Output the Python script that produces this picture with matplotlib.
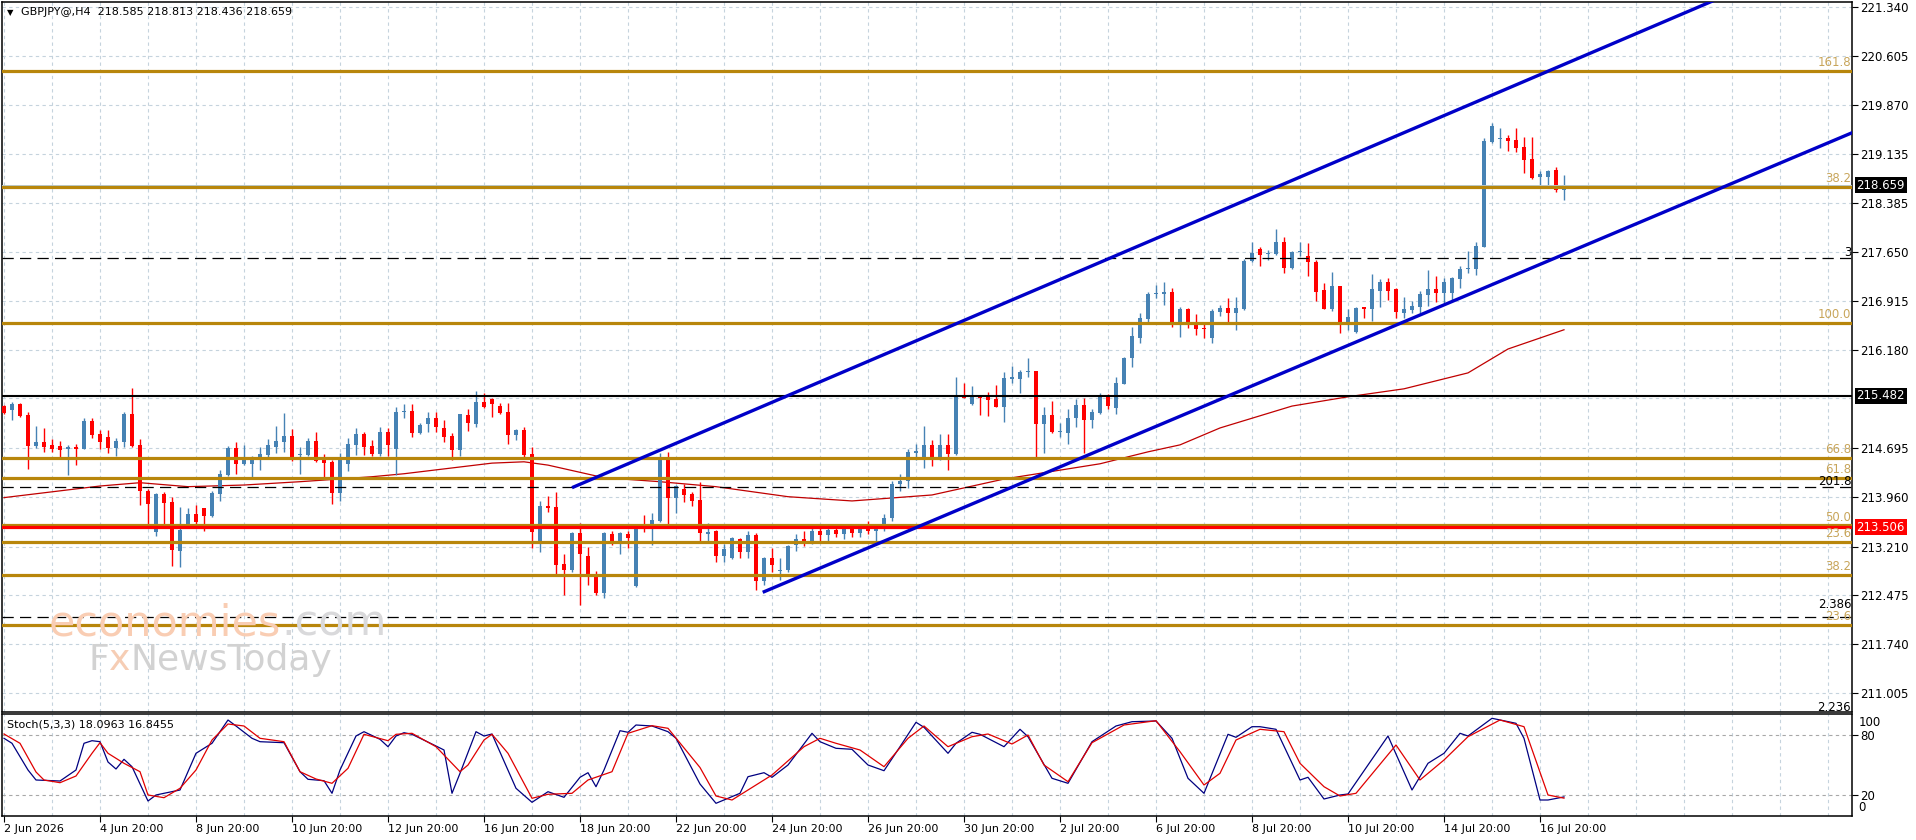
import numpy as np
import matplotlib
matplotlib.use("Agg")
import matplotlib.pyplot as plt
from matplotlib.transforms import blended_transform_factory

# ---------------- DATA ----------------
opens = [215.337,215.271,215.362,215.196,214.729,214.784,214.744,214.729,214.678,214.714,
         214.688,215.105,214.910,214.864,214.703,214.794,215.211,214.744,214.050,213.437,
         214.010,213.890,213.151,213.538,213.704,213.789,213.679,214.005,214.292,214.693,
         214.457,214.457,214.533,214.593,214.714,214.794,214.879,214.593,214.593,214.804,
         214.543,214.487,214.025,214.462,214.744,214.910,214.729,214.608,214.940,214.683,
         215.236,215.256,214.930,215.055,215.146,215.005,214.879,214.668,215.196,215.060,
         215.387,215.437,215.337,215.236,214.894,214.970,214.603,213.272,213.824,213.804,
         212.950,212.860,213.422,213.071,212.769,212.508,213.402,213.287,213.402,212.619,
         213.538,213.538,213.598,214.533,213.950,214.075,214.005,213.915,213.407,213.447,
         213.076,213.035,213.322,213.136,213.387,212.694,213.035,212.845,212.860,213.230,
         213.330,213.280,213.450,213.380,213.460,213.400,213.480,213.420,213.500,213.450,
         213.500,213.650,214.150,214.200,214.628,214.517,214.743,214.557,214.743,214.608,
         215.497,215.361,215.472,215.472,215.432,215.321,215.738,215.738,215.838,215.859,
         215.060,215.195,214.939,214.919,215.145,215.346,215.120,215.231,215.472,215.306,
         215.663,216.049,216.361,216.642,217.014,217.019,217.044,216.587,216.788,216.602,
         216.512,216.361,216.753,216.803,216.738,216.793,217.521,217.697,217.617,217.622,
         217.798,217.406,217.647,217.597,217.501,217.079,216.793,217.140,216.587,216.441,
         216.828,216.793,217.069,217.195,217.089,216.728,216.778,216.828,217.004,217.094,
         217.029,217.029,217.245,217.391,217.396,217.732,219.315,219.350,219.365,219.340,
         219.240,219.049,218.777,218.787,218.888,218.585]
highs = [215.347,215.387,215.372,215.236,215.030,215.005,214.834,214.804,214.744,214.754,
         215.156,215.146,214.970,214.970,214.844,215.236,215.608,214.834,214.075,214.015,
         214.030,213.960,213.814,213.789,213.839,213.799,214.050,214.367,214.734,214.784,
         214.739,214.573,214.714,214.834,215.025,215.226,214.990,214.714,214.854,214.945,
         214.603,214.518,214.618,214.844,215.005,214.945,214.819,215.015,215.005,215.321,
         215.357,215.357,215.070,215.236,215.236,215.120,214.920,215.216,215.286,215.558,
         215.522,215.447,215.372,215.372,214.980,215.020,214.719,213.900,213.975,214.040,
         213.101,213.437,213.563,213.211,212.845,213.437,213.452,213.437,213.452,213.488,
         213.689,213.714,214.618,214.643,214.141,214.151,214.040,214.191,213.563,213.463,
         213.247,213.362,213.337,213.452,213.412,213.061,213.196,213.035,213.237,213.400,
         213.450,213.500,213.520,213.500,213.550,213.520,213.550,213.550,213.600,213.550,
         213.700,214.200,214.300,214.678,214.758,215.030,214.819,214.904,214.904,215.763,
         215.673,215.632,215.472,215.547,215.648,215.848,215.934,215.874,216.049,215.859,
         215.321,215.406,215.070,215.281,215.432,215.447,215.281,215.532,215.512,215.773,
         216.075,216.527,216.728,217.049,217.155,217.205,217.104,216.828,216.803,216.713,
         216.577,216.788,216.853,216.954,216.969,217.542,217.808,217.732,217.682,217.994,
         217.873,217.672,217.808,217.783,217.531,217.180,217.356,217.140,216.788,216.828,
         216.828,217.315,217.245,217.255,217.104,216.969,216.914,217.064,217.381,217.290,
         217.255,217.280,217.441,217.672,217.798,219.365,219.591,219.516,219.415,219.516,
         219.390,219.390,218.873,218.888,218.938,218.813]
lows = [215.206,215.120,215.171,214.382,214.693,214.643,214.643,214.553,214.292,214.442,
        214.678,214.854,214.683,214.628,214.578,214.719,214.719,213.839,213.538,213.377,
        213.538,212.920,212.910,213.528,213.513,213.452,213.664,213.905,214.277,214.312,
        214.442,214.256,214.367,214.568,214.623,214.643,214.503,214.307,214.583,214.482,
        214.261,213.859,213.900,214.352,214.593,214.593,214.578,214.583,214.583,214.292,
        215.146,214.869,214.904,214.945,214.935,214.794,214.518,214.583,214.955,215.010,
        215.306,215.171,215.206,214.754,214.819,214.568,213.196,213.136,213.739,212.794,
        212.483,212.835,212.332,212.634,212.483,212.443,213.236,213.101,213.186,212.609,
        213.427,213.236,213.588,213.513,213.714,213.890,213.829,213.287,213.261,212.975,
        212.985,213.025,213.035,213.035,212.558,212.634,212.835,212.709,212.835,213.150,
        213.220,213.250,213.300,213.300,213.350,213.320,213.350,213.350,213.400,213.300,
        213.450,213.600,214.050,214.100,214.517,214.392,214.427,214.517,214.366,214.592,
        215.447,215.346,215.195,215.180,215.311,215.095,215.673,215.532,215.763,214.567,
        214.618,214.919,214.869,214.758,215.020,214.618,214.994,215.205,215.281,215.205,
        215.658,215.924,216.286,216.602,216.954,216.853,216.527,216.366,216.502,216.401,
        216.351,216.276,216.687,216.602,216.476,216.778,217.506,217.446,217.531,217.607,
        217.341,217.391,217.592,217.295,216.919,216.788,216.763,216.436,216.476,216.426,
        216.662,216.617,216.828,216.929,216.652,216.652,216.738,216.728,216.838,216.903,
        216.878,216.929,217.104,217.331,217.305,217.732,219.290,219.215,219.179,219.164,
        218.838,218.752,218.647,218.637,218.551,218.436]
closes = [215.221,215.362,215.181,214.729,214.784,214.719,214.688,214.673,214.714,214.688,
          215.105,214.894,214.794,214.703,214.804,215.216,214.734,214.050,213.859,214.000,
          213.875,213.166,213.463,213.704,213.588,213.679,214.025,214.302,214.693,214.457,
          214.533,214.533,214.608,214.739,214.804,214.879,214.558,214.608,214.804,214.503,
          214.477,214.025,214.533,214.759,214.910,214.719,214.613,214.940,214.744,215.241,
          215.256,214.920,215.045,215.146,215.020,214.869,214.668,215.206,215.070,215.387,
          215.321,215.357,215.231,214.894,214.970,214.593,213.437,213.824,213.789,212.935,
          212.860,213.422,213.101,212.784,212.508,213.422,213.287,213.422,213.337,213.478,
          213.523,213.613,214.533,213.950,214.126,213.990,213.900,213.412,213.437,213.076,
          213.176,213.337,213.136,213.387,212.694,213.035,212.935,212.860,213.226,213.330,
          213.280,213.450,213.380,213.460,213.400,213.480,213.420,213.500,213.450,213.500,
          213.650,214.150,214.200,214.643,214.653,214.743,214.557,214.743,214.608,215.497,
          215.457,215.472,215.452,215.421,215.321,215.748,215.773,215.848,215.859,215.060,
          215.195,214.944,214.954,215.145,215.346,215.120,215.246,215.472,215.331,215.673,
          216.049,216.386,216.662,217.019,217.029,217.044,216.577,216.788,216.602,216.497,
          216.497,216.763,216.803,216.738,216.803,217.521,217.632,217.607,217.642,217.798,
          217.406,217.652,217.667,217.496,217.054,216.798,217.140,216.602,216.667,216.808,
          216.798,217.089,217.195,217.069,216.743,216.793,216.838,217.019,217.094,217.029,
          217.195,217.265,217.396,217.416,217.747,219.325,219.551,219.365,219.330,219.215,
          219.039,218.762,218.828,218.878,218.587,218.659]

# moving average (read at selected bars)
ma_bar = [0, 12, 17, 23, 30, 37, 46, 50, 61, 65, 68, 75, 82, 89, 98, 106, 116, 125, 137,
          143, 147, 152, 161, 168, 175, 183, 188, 195]
ma_val = [213.95, 214.125, 214.175, 214.115, 214.14, 214.19, 214.265, 214.31, 214.47, 214.49,
          214.44, 214.25, 214.19, 214.115, 213.964, 213.90, 213.99, 214.23, 214.46,
          214.64, 214.745, 215.00, 215.33, 215.47, 215.59, 215.83, 216.19, 216.48]

# Stochastic (5,3,3)
k_bar = [0,1,3,4,7,9,10,11,12,13,14,15,16,18,19,20,22,24,26,28,29,31,32,35,37,38,40,41,42,44,
         45,47,48,49,50,51,54,55,56,57,59,60,61,64,66,68,70,72,73,74,75,77,78,79,81,83,84,87,89,92,
         93,95,96,98,101,102,104,106,108,110,112,114,115,118,119,121,122,125,127,128,131,133,136,139,
         141,144,146,148,150,153,154,156,157,159,162,163,165,167,168,173,176,178,180,182,183,186,189,
         190,192,193,195]
k_val = [76.7,71.7,45,35,34,45,71.7,74.3,73.3,53,46,55.7,48.3,14,20,21.7,25,61.7,71.7,95,89,76.7,
         73.3,72.3,43.3,35.7,34.3,21.7,45,79,83.3,75.7,68.3,79,82.3,80.7,69,65,21.7,41.7,83.3,79,81,
         26.7,12.7,23.3,17.7,37.7,42.3,28.3,45,84.3,82.7,90,89,83.3,76.7,31,11.7,21.7,38.3,42.3,37.7,
         50,81.7,73.3,66.7,65.7,50,44.3,68.3,92.7,87.7,61.7,71.7,82.7,80.7,68.3,85.7,78.3,36.7,31.7,
         73.3,89,93.3,94,76.7,36.7,21.7,80.7,77.7,88.3,88.3,85.7,35,37.7,16,20,21,79,25,51.7,61.7,
         81.7,79,96.7,91.7,76.7,15,15,18.0963]
d_bar = [0,2,4,5,7,9,11,12,13,15,17,18,20,22,24,26,28,30,32,35,37,39,41,43,45,48,49,51,54,57,58,
         60,61,63,66,68,71,73,76,78,81,83,87,89,91,94,96,100,102,104,107,110,113,115,118,121,123,126,
         128,130,133,136,140,144,147,150,152,154,157,160,162,165,167,169,174,177,180,183,187,190,193,195]
d_val = [81,71.7,43,35,32.3,39,61.7,72.3,61.7,51.7,43.3,20,17.3,26.7,45,75,91,89,76.7,73.3,43.3,36,
         31.7,46.7,80.7,74.3,80.7,81.7,68.3,43.3,50,75,80.7,61.7,16.7,20.7,21.7,35,43.3,81.7,89.3,
         86.7,47.5,19,15,30,40,68.3,76.7,71.7,65,48.3,76.7,89,68.3,78.3,81,71,80,50,33.3,72.3,90,94.3,
         63.3,30,41.7,75,85.7,83.3,51.7,28.3,19,21.7,70,35,55,78.3,95,88.3,20,16.8455]

# horizontal levels
gold_levels = [220.380, 218.627, 216.587, 214.543, 214.241, 213.530, 213.277, 212.789, 212.030]
gold_labels = ["161.8", "38.2", "100.0", "66.8", "61.8", "50.0", "23.6", "38.2", "23.6"]
dash_levels = [217.557, 214.106, 212.146, 210.70]
dash_labels = ["3", "201.8", "2.386", "2.236"]
support_level = 215.482
red_level = 213.506
last_price = 218.659

# channel anchor points (bar, price)
upper_channel = [(71, 214.100), (147, 218.010)]
lower_channel = [(94.84, 212.523), (195.75, 217.656)]

price_ticks = [221.340, 220.605, 219.870, 219.135, 218.385, 217.650, 216.915, 216.180,
               214.695, 213.960, 213.210, 212.475, 211.740, 211.005]
grid_prices = [221.340, 220.605, 219.870, 219.135, 218.385, 217.650, 216.915, 216.180,
               215.445, 214.695, 213.960, 213.210, 212.475, 211.740, 211.005]
date_ticks = list(range(0, 193, 12))
date_labels = ["2 Jun 2026", "4 Jun 20:00", "8 Jun 20:00", "10 Jun 20:00", "12 Jun 20:00",
               "16 Jun 20:00", "18 Jun 20:00", "22 Jun 20:00", "24 Jun 20:00", "26 Jun 20:00",
               "30 Jun 20:00", "2 Jul 20:00", "6 Jul 20:00", "8 Jul 20:00", "10 Jul 20:00",
               "14 Jul 20:00", "16 Jul 20:00"]

# ---------------- STYLE ----------------
plt.rcParams["font.family"] = ["DejaVu Sans"]
BULL = "#4682B4"
BEAR = "#FF0000"
GOLD = "#B8860B"
GOLD_TXT = "#C8A55A"
CHAN = "#0000C8"
GRID = "#C5D3DD"

W, H = 1916, 840
fig = plt.figure(figsize=(W / 100, H / 100), dpi=100)
fig.patch.set_facecolor("white")
ax = fig.add_axes([2 / W, 1 - 712 / H, 1850 / W, 710 / H])
ax2 = fig.add_axes([2 / W, 1 - 816 / H, 1850 / W, 102 / H])

XMIN, XMAX = -0.25, 231.0
ax.set_xlim(XMIN, XMAX)
ax.set_ylim(210.719, 221.420)
ax2.set_xlim(XMIN, XMAX)
ax2.set_ylim(-1, 101)

for a in (ax, ax2):
    for s in a.spines.values():
        s.set_linewidth(1.1)
        s.set_color("black")
    for g in range(0, 232, 6):
        a.axvline(g, color=GRID, lw=0.8, ls=(0, (3, 3)), zorder=0)

for gp in grid_prices:
    ax.axhline(gp, color=GRID, lw=0.8, ls=(0, (3, 3)), zorder=0)
for gv in (80, 20):
    ax2.axhline(gv, color="#A8A8A8", lw=0.8, ls=(0, (3, 3)), zorder=0)

# watermark (pieces chained one after another)
renderer = fig.canvas.get_renderer()


def chain(x0, y0, parts, size):
    xx = x0
    for txt, col in parts:
        t = fig.text(xx / W, 1 - y0 / H, txt, fontsize=size, color=col, va="baseline",
                     ha="left", zorder=0)
        bb = t.get_window_extent(renderer=renderer)
        xx = bb.x1


chain(49, 636, [("economies", "#F9CDB3"), (".com", "#D9D9DB")], 31)
chain(88, 670, [("F", "#D2D2D2"), ("x", "#F6CDB4"), ("NewsToday", "#D2D2D2")], 26)

# candles
o = np.array(opens); h = np.array(highs); l = np.array(lows); c = np.array(closes)
x = np.arange(len(o))
cols = np.where(c >= o, BULL, BEAR)
ax.vlines(x, l, h, colors=cols, lw=1.0, zorder=3)
body = np.maximum(np.abs(c - o), 0.012)
ax.bar(x, body, bottom=np.minimum(o, c), width=0.62, color=cols, lw=0, zorder=3)

# moving average
ax.plot(ma_bar, ma_val, color="#C00000", lw=0.9, zorder=2.5)

# horizontal lines
trans = blended_transform_factory(ax.transAxes, ax.transData)
ax.axhline(last_price, color="#B8CCD4", lw=0.7, zorder=3.5)
for lv, lb in zip(gold_levels, gold_labels):
    ax.axhline(lv, color=GOLD, lw=2.3, zorder=4)
    ax.text(230.9, lv + 0.03, lb, color=GOLD_TXT, fontsize=8.5, ha="right", va="bottom",
            zorder=6, clip_on=True)
for lv, lb in zip(dash_levels, dash_labels):
    ax.axhline(lv, color="black", lw=0.9, ls=(0, (9, 5)), zorder=4)
    off = 0.09 if lb == "2.386" else -0.01
    ax.text(230.9, lv + off, lb, color="black", fontsize=8.5, ha="right", va="bottom",
            zorder=6, clip_on=True)
ax.axhline(support_level, color="black", lw=1.5, zorder=4)
ax.axhline(red_level, color="#FF0000", lw=2.3, zorder=4.2)

# channel
for (x0, y0), (x1, y1) in (upper_channel, lower_channel):
    slope = (y1 - y0) / (x1 - x0)
    ax.plot([x0, XMAX + 5], [y0, y0 + slope * (XMAX + 5 - x0)], color=CHAN, lw=2.4,
            zorder=5, solid_capstyle="butt")

# axes ticks
ax.yaxis.tick_right()
ax.set_yticks(price_ticks)
ax.set_yticklabels([f"{p:.3f}" for p in price_ticks])
ax.tick_params(axis="y", direction="out", length=4, width=0.8, pad=2, labelsize=8.5)
ax.set_xticks([])

# price boxes
for val, fc in ((last_price, "black"), (support_level, "black"), (red_level, "#FF0000")):
    ax.text(1.0024, val, f"{val:.3f}", transform=trans, color="white", fontsize=8.5,
            ha="left", va="center", clip_on=False, zorder=10,
            bbox=dict(facecolor=fc, edgecolor="none", boxstyle="square,pad=0.15"))

# title
ax.text(0.0025, 0.991, "\u25BC", transform=ax.transAxes, fontsize=6, va="top", ha="left")
ax.text(0.0105, 0.993, "GBPJPY@,H4  218.585 218.813 218.436 218.659", transform=ax.transAxes,
        fontsize=8, va="top", ha="left")

# stochastic
ax2.plot(k_bar, k_val, color="#000080", lw=0.9, zorder=3)
ax2.plot(d_bar, d_val, color="#E00000", lw=0.9, zorder=3)
ax2.text(0.0025, 0.95, "Stoch(5,3,3) 18.0963 16.8455", transform=ax2.transAxes, fontsize=8,
         va="top", ha="left")
ax2.yaxis.tick_right()
ax2.set_yticks([80, 20])
ax2.set_yticklabels(["80", "20"])
ax2.tick_params(axis="y", direction="out", length=4, width=0.8, pad=2, labelsize=8.5)
t2 = blended_transform_factory(ax2.transAxes, ax2.transData)
ax2.text(1.0035, 92, "100", transform=t2, fontsize=8.5, va="center", ha="left", clip_on=False)
ax2.text(1.0035, 7.5, "0", transform=t2, fontsize=8.5, va="center", ha="left", clip_on=False)

ax2.set_xticks(date_ticks)
ax2.set_xticklabels(date_labels)
for lab in ax2.get_xticklabels():
    lab.set_horizontalalignment("left")
ax2.tick_params(axis="x", direction="out", length=4, width=0.8, pad=2, labelsize=8)

fig.savefig("out.png", dpi=100, facecolor="white")
